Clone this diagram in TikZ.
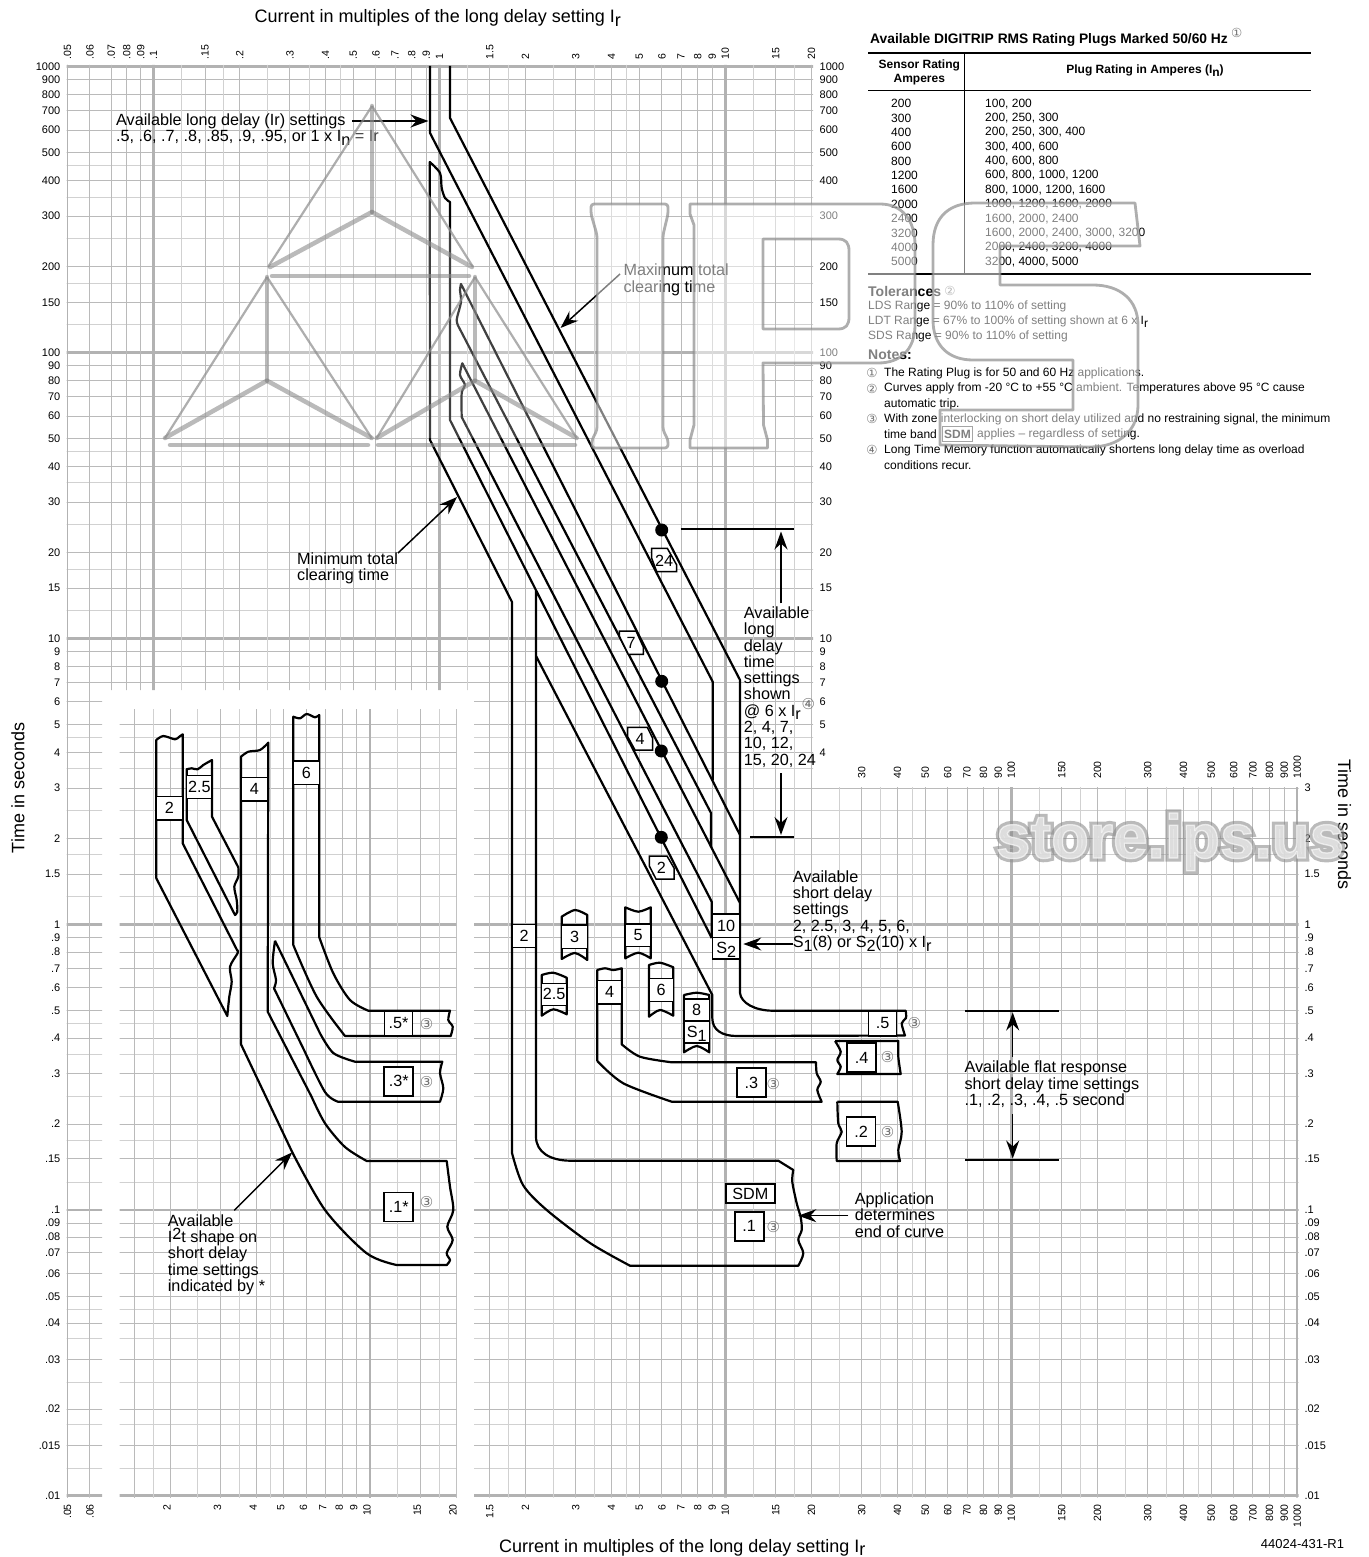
\documentclass[tikz,border=0pt]{standalone}
\usepackage{fontspec}
\setmainfont{Liberation Sans}
\newfontfamily\symfont{DejaVu Sans}
\newfontfamily\wmring[FakeBold=12]{Liberation Sans Bold}
\newfontfamily\wmcore[FakeBold=2]{Liberation Sans Bold}
\usetikzlibrary{arrows.meta}
\newcommand{\labelfont}{\fontsize{16.2}{16.3}\selectfont}
\newcommand{\titlefont}{\fontsize{18}{20}\selectfont}
\newcommand{\tickfont}{\fontsize{10.5}{12}\selectfont}
\newcommand{\sidefont}{\fontsize{11}{12}\selectfont}
\newcommand{\tablefont}{\fontsize{12}{14}\selectfont}
\newcommand{\notefont}{\fontsize{12}{14}\selectfont}
\newcommand{\headfont}{\fontsize{14}{15}\selectfont\bfseries}
\newcommand{\lowr}[1]{\smash{\raisebox{-.22em}{#1}}}
\newcommand{\upr}[1]{\smash{\raisebox{.2em}{#1}}}
\newcommand{\circsym}[1]{{\symfont\color{black!55}#1}}

\begin{document}
\begin{tikzpicture}[x=1pt,y=-1pt,
    declare function={xp(\q)=439.4+285.95*log10(\q); xs(\q)=84+285.95*log10(\q); yp(\q)=924.4-285.9*log10(\q);}]
    \tikzstyle{gridmajor} = [draw=black!27,line width=1pt]
\tikzstyle{gridminor} = [draw=black!18,line width=1pt]
\tikzstyle{griddecade} = [draw=black!30,line width=2.6pt]
\tikzstyle{curveline} = [draw=black,line width=2.2pt,line join=round]
\tikzstyle{barline} = [draw=black,line width=2.2pt]
\tikzstyle{pointer} = [draw=black,line width=1.5pt,-{Stealth[length=18pt,width=13pt,inset=6pt]}]
\tikzstyle{plugbox} = [draw=black,fill=white,line width=1.5pt,inner sep=0pt,font=\labelfont]
\tikzstyle{plugtext} = [inner sep=0pt,font=\labelfont]
\tikzstyle{platebox} = [plugbox,line width=1.8pt,minimum width=29pt,minimum height=29pt]
\tikzstyle{callout} = [inner sep=0pt,align=left,anchor=north west,font=\labelfont]
\tikzstyle{ticktext} = [inner sep=0pt,font=\tickfont]
\tikzstyle{sidetext} = [inner sep=0pt,font=\sidefont]
\tikzstyle{cell} = [inner sep=0pt,anchor=west,font=\tablefont]
\tikzstyle{noteline} = [inner sep=0pt,anchor=west,font=\notefont]
\tikzstyle{circled} = [inner sep=0pt,font=\fontsize{15}{15}\selectfont]
\tikzstyle{notecircled} = [inner sep=0pt,font=\fontsize{12.5}{13}\selectfont]
\tikzstyle{dotmark} = [fill=black,shape=circle,inner sep=0pt,minimum size=13pt]
\tikzstyle{wmline} = [draw=black!45,draw opacity=.7,line width=2.2pt,line join=round]
\tikzstyle{wmspoke} = [draw=black!45,draw opacity=.6,line width=4.5pt,line cap=round]
\tikzstyle{wmletter} = [draw=black!45,draw opacity=.7,line width=2.8pt,fill=white,fill opacity=.5,even odd rule,line join=round]

\useasboundingbox (0,0) rectangle (1368,1557);

\begin{scope}
\clip (66.5,65) rectangle (813,690) (66.5,690) rectangle (102,1497.5) (119.5,709) rectangle (456.5,1497.5) (474,690) rectangle (813,1497.5) (813,787) rectangle (1298.5,1497.5);
\foreach \d in {.01,.1,1,10,100} {
\foreach \m in {1.5,2,3,4,5,6,7,8,9} \draw[gridmajor] (60,{yp(\m*\d)}) -- (1300,{yp(\m*\d)});
\foreach \m in {1.25,1.75,2.5,3.5,4.5} \draw[gridminor] (60,{yp(\m*\d)}) -- (1300,{yp(\m*\d)});
}
\foreach \d in {.01,.1,1,10,100,1000} \draw[griddecade] (60,{yp(\d)}) -- (1300,{yp(\d)});
\end{scope}

\begin{scope}
\clip (66.5,65) rectangle (813,690) (66.5,690) rectangle (102,1497.5) (474,690) rectangle (813,1497.5) (813,787) rectangle (1298.5,1497.5);
\foreach \d in {.01,.1,1,10,100} {
\foreach \m in {1.5,2,3,4,5,6,7,8,9} \draw[gridmajor] ({xp(\m*\d)},60) -- ({xp(\m*\d)},1500);
\foreach \m in {1.25,1.75,2.5,3.5,4.5} \draw[gridminor] ({xp(\m*\d)},60) -- ({xp(\m*\d)},1500);
}
\foreach \d in {.1,1,10,100,1000} \draw[griddecade] ({xp(\d)},60) -- ({xp(\d)},1500);
\draw[griddecade,line width=1.8pt] ({xp(.05)},60) -- ({xp(.05)},1500);
\end{scope}

\begin{scope}
\clip (119.5,709) rectangle (456.5,1497.5);
\foreach \d in {1,10} {
\foreach \m in {1.5,2,3,4,5,6,7,8,9} \draw[gridmajor] ({xs(\m*\d)},700) -- ({xs(\m*\d)},1500);
\foreach \m in {1.25,1.75,2.5,3.5,4.5} \draw[gridminor] ({xs(\m*\d)},700) -- ({xs(\m*\d)},1500);
}
\draw[griddecade] ({xs(10)},700) -- ({xs(10)},1500);
\draw[gridmajor] ({xs(20)},700) -- ({xs(20)},1500);
\end{scope}

\foreach \v [count=\i] in {.05,.06,.07,.08,.09,.1,.15,.2,.3,.4,.5,.6,.7,.8,.9,1,1.5,2,3,4,5,6,7,8,9,10,15,20}
\node[ticktext,rotate=90,anchor=west] (topa\i) at ({xp(\v)},59.5) {\v};
\foreach \v [count=\i] in {30,40,50,60,70,80,90,100,150,200,300,400,500,600,700,800,900,1000}
\node[ticktext,rotate=90,anchor=west] (topb\i) at ({xp(\v)},779) {\v};
\foreach \v [count=\i] in {.05,.06,1.5,2,3,4,5,6,7,8,9,10,15,20,30,40,50,60,70,80,90,100,150,200,300,400,500,600,700,800,900,1000}
\node[ticktext,rotate=90,anchor=east] (bota\i) at ({xp(\v)},1504) {\v};
\foreach \v [count=\i] in {2,3,4,5,6,7,8,9,10,15,20}
\node[ticktext,rotate=90,anchor=east] (botb\i) at ({xs(\v)-3},1504) {\v};
\foreach \v [count=\i] in {1000,900,800,700,600,500,400,300,200,150,100,90,80,70,60,50,40,30,20,15,10,9,8,7,6,5,4,3,2,1.5,1,.9,.8,.7,.6,.5,.4,.3,.2,.15,.1,.09,.08,.07,.06,.05,.04,.03,.02,.015,.01}
\node[sidetext,anchor=east] (lefta\i) at (60.5,{yp(\v)}) {\v};
\foreach \v [count=\i] in {1000,900,800,700,600,500,400,300,200,150,100,90,80,70,60,50,40,30,20,15,10,9,8,7,6,5,4}
\node[sidetext,anchor=west] (righta\i) at (819.5,{yp(\v)}) {\v};
\foreach \v [count=\i] in {3,2,1.5,1,.9,.8,.7,.6,.5,.4,.3,.2,.15,.1,.09,.08,.07,.06,.05,.04,.03,.02,.015,.01}
\node[sidetext,anchor=west] (rightb\i) at (1304.3,{yp(\v)}) {\v};

\draw[curveline] (430,66) -- (430,133) -- (712.7,681.7) -- (712.7,780);
\draw[curveline] (450,66) -- (450,118) -- (740,680) -- (740,993) .. controls (741,1003) and (755,1010.7) .. (773,1010.7) -- (905.7,1010.7) -- plot[smooth] coordinates {(905.7,1010.7) (906,1018) (901.7,1023.3) (905,1035.5)} -- (736.7,1036) .. controls (722,1036) and (712.3,1030) .. (712.3,1018) -- (712.3,995) -- (536,656);
\draw[curveline] (711.7,938) -- (450,420) -- (450,202) -- plot[smooth] coordinates {(450,202) (445,198) (441.7,188) (440,173) (429.7,162)} -- (430,440) -- (512,602) -- (512,1153) -- plot[smooth] coordinates {(512,1153) (523,1185) (546.7,1210) (590,1243) (630,1265.7)} -- (798.3,1265.7) -- plot[smooth] coordinates {(798.3,1265.7) (803.3,1253.3) (798.3,1240) (801.7,1230) (800.7,1217.3) (796.7,1203.3) (792.3,1181.7) (793.3,1170)} -- (778.3,1160.7) -- (570.7,1160.7) .. controls (550,1160.7) and (536,1152) .. (536,1136.7) -- (536,590);
\draw[curveline] (740,903) -- (462.3,363.3) -- plot[smooth] coordinates {(462.3,363.3) (460,375) (465,385) (461.7,393) (461.7,417)} -- (711.7,901.7) -- (711.7,938);
\draw[curveline] (740,835) -- (461,284) -- plot[smooth] coordinates {(461,284) (460,290) (461,302) (456.7,320) (459.3,328)} -- (711,813) -- (711,847);

\draw[curveline] (156.3,878.3) -- (156.3,740) -- plot[smooth] coordinates {(156.3,740) (163.3,736) (175,739.3) (179.3,736.7) (182.7,734.3)} -- (182.7,843.3) -- (237,950) -- plot[smooth] coordinates {(237,950) (237.7,953) (230,966.7) (231.7,981.7) (229.3,996.7) (227.3,1016)} -- (156.3,878.3);
\draw[curveline] (186.7,820) -- (186.7,769.3) -- plot[smooth] coordinates {(186.7,769.3) (191.7,768.3) (197.7,769.3) (203.3,765) (212,760)} -- (212,816.7) -- (238.3,867.3) -- plot[smooth] coordinates {(238.3,867.3) (238.3,876.7) (234.3,886.7) (236.7,900) (237.3,911.7) (235,915)} -- (186.7,820);
\draw[curveline] (241,1044.3) -- (241,756.7) -- plot[smooth] coordinates {(241,756.7) (248.3,751.7) (260,750) (268.3,742.7)} -- (267.7,1011.7) -- (311.7,1097) -- plot[smooth] coordinates {(311.7,1097) (325,1123.3) (345,1147) (366.7,1161)} -- (446.7,1161) -- plot[smooth] coordinates {(446.7,1161) (450,1186.7) (453.3,1210) (447.3,1226.7) (452.7,1240) (446.7,1253) (450,1260) (446.7,1265)} -- (396.7,1265) -- plot[smooth] coordinates {(396.7,1265) (366.7,1253.3) (325,1210) (292.3,1152.3)} -- (241,1044.3);
\draw[curveline] (293.3,945) -- (293.3,716.7) -- plot[smooth] coordinates {(293.3,716.7) (300,718.3) (306.7,714) (315,717.3) (319.3,715)} -- (319.3,937.3) -- plot[smooth] coordinates {(319.3,937.3) (333.3,973.3) (350,1000) (368.3,1010.7)} -- (450,1010.7) -- plot[smooth] coordinates {(450,1010.7) (448.3,1020) (452.7,1026.7) (450.7,1036)} -- (345,1036) -- plot[smooth] coordinates {(345,1036) (316.7,996.7) (293.3,945)};
\draw[curveline] (275,940.7) -- (320,1033.3) -- plot[smooth] coordinates {(320,1033.3) (333.3,1053) (355,1061.7)} -- (442.3,1061.7) -- plot[smooth] coordinates {(442.3,1061.7) (440,1073) (443.3,1088.3) (440,1101.7)} -- (338,1101.7) -- plot[smooth] coordinates {(338,1101.7) (325,1092) (304,1050)} -- (274,988.3) -- plot[smooth] coordinates {(274,988.3) (276,980) (272.7,963) (275,940.7)};

\draw[curveline] (561.7,959) -- plot[smooth] coordinates {(561.7,959) (575,953) (587.3,960)} -- (587.3,915) -- plot[smooth] coordinates {(587.3,915) (575,910) (561.7,916.7)} -- cycle;
\draw[curveline] (625.3,958.3) -- plot[smooth] coordinates {(625.3,958.3) (638.3,952.7) (650.7,958.3)} -- (650.7,907.3) -- plot[smooth] coordinates {(650.7,907.3) (638.3,911.7) (625.3,907.3)} -- cycle;
\draw[curveline] (541.7,1015.7) -- plot[smooth] coordinates {(541.7,1015.7) (553.3,1009.3) (566.7,1014.3)} -- (566.7,977.7) -- plot[smooth] coordinates {(566.7,977.7) (553.3,972.7) (541.7,975)} -- cycle;
\draw[curveline] (649,1016.7) -- plot[smooth] coordinates {(649,1016.7) (660,1010) (673.3,1015.7)} -- (673.3,967.3) -- plot[smooth] coordinates {(673.3,967.3) (660,962.7) (649,965)} -- cycle;
\draw[curveline] (684,1052.3) -- plot[smooth] coordinates {(684,1052.3) (696.7,1046) (709.3,1052.3)} -- (709.3,995) -- plot[smooth] coordinates {(709.3,995) (696.7,992.7) (684,995)} -- cycle;
\draw[curveline] (597.3,1061) -- (597.3,970) -- plot[smooth] coordinates {(597.3,970) (605,968.3) (613.3,970) (621.7,968.3)} -- (621.7,1044.3) -- plot[smooth] coordinates {(621.7,1044.3) (640,1056.7) (671.7,1062.3)} -- (816,1062.3) -- plot[smooth] coordinates {(816,1062.3) (816.7,1073.3) (820.7,1081.7) (817.3,1090) (821.7,1101.7)} -- (671.7,1101.7) -- plot[smooth] coordinates {(671.7,1101.7) (623.3,1083.3) (597.3,1061)};
\draw[curveline] (835,1041) -- (898.3,1041) -- plot[smooth] coordinates {(898.3,1041) (898.3,1056.7) (900.7,1074)} -- (837.3,1074) -- plot[smooth] coordinates {(837.3,1074) (840.7,1066.7) (837.3,1060) (840.7,1051.7) (835,1041)};
\draw[curveline] (837.3,1101.7) -- (897.7,1101.7) -- plot[smooth] coordinates {(897.7,1101.7) (901.7,1131.7) (898.3,1150) (900,1161)} -- (836.7,1161) -- plot[smooth] coordinates {(836.7,1161) (836.7,1143.3) (841.7,1131.7) (838.3,1123.3) (837.3,1101.7)};

\node[plugbox,minimum width=26.4pt,minimum height=23.3pt] (lb2) at (169.5,808.3) {2};
\node[plugbox,minimum width=25.3pt,minimum height=22.6pt] (lb25) at (199.3,787) {2.5};
\node[plugbox,minimum width=26.7pt,minimum height=23.5pt] (lb4) at (254.3,789) {4};
\node[plugbox,minimum width=26pt,minimum height=23.3pt] (lb6) at (306.3,772.7) {6};
\node[plugbox,minimum width=28.4pt,minimum height=25.3pt] (lbpa) at (398.5,1023.4) {.5*};
\node[platebox] (lbpc) at (398.8,1081.3) {.3*};
\node[platebox] (lbpd) at (398.8,1207) {.1*};
\node[plugbox,minimum width=24pt,minimum height=23.4pt] (sb2) at (524,936) {2};
\node[plugbox,minimum width=25.6pt,minimum height=23.3pt] (sb3) at (574.5,936.7) {3};
\node[plugbox,minimum width=25.4pt,minimum height=22.7pt] (sb5) at (638,935.3) {5};
\node[plugbox,minimum width=25pt,minimum height=22pt] (sb25) at (554.2,994.3) {2.5};
\node[plugbox,minimum width=24.4pt,minimum height=23.3pt] (sb4) at (609.5,992.3) {4};
\node[plugbox,minimum width=24.3pt,minimum height=23.4pt] (sb6) at (661.2,990) {6};
\node[plugbox,minimum width=25.3pt,minimum height=22pt] (sb8) at (696.7,1010) {8};
\node[plugbox,below of=sb8,node distance=22pt,minimum width=25.3pt,minimum height=22pt] (sbs1) {S\lowr{1}};
\node[plugbox,minimum width=27.7pt,minimum height=23.3pt] (sb10) at (726.2,925.7) {10};
\node[plugbox,below of=sb10,node distance=22.5pt,minimum width=27.7pt,minimum height=21.7pt] (sbs2) {S\lowr{2}};
\node[plugbox,minimum width=28.4pt,minimum height=25.3pt] (spa) at (882.5,1023.4) {.5};
\node[platebox] (spb) at (861.7,1057.5) {.4};
\node[platebox] (spc) at (751.3,1082.8) {.3};
\node[platebox] (spd) at (861,1131.4) {.2};
\node[platebox] (spe) at (749.2,1226.2) {.1};
\node[plugbox,line width=1.8pt,minimum width=49.3pt,minimum height=19.3pt] (spm) at (750.3,1193.7) {SDM};

\foreach \a/\b in {lc1/{426.7,1024},lc2/{426.7,1082.3},lc3/{426.7,1202.3},lc4/{914.3,1022.7},lc5/{887.7,1057.3},lc6/{773.3,1084},lc7/{887.7,1132},lc8/{773.3,1227.3}}
\node[circled] (\a) at (\b) {\circsym{③}};

\draw[plugbox] (651.7,548.3) -- (667.3,548.3) -- (676.7,565) -- (676.7,571.7) -- (656.7,571.7) -- (651.7,558.3) -- cycle;
\draw[plugbox] (619.3,631) -- (636,631) -- (643.3,647) -- (643.3,654.3) -- (628.3,654.3) -- (619.3,636) -- cycle;
\draw[plugbox] (627.7,727.3) -- (647.3,727.3) -- (652.7,738.3) -- (652.7,750) -- (635,750) -- (627.7,736.7) -- cycle;
\draw[plugbox] (649.3,856) -- (667,856) -- (674,868) -- (674,879) -- (656,879) -- (649.3,866) -- cycle;
\node[plugtext] (ds24) at (664,560.5) {24};
\node[plugtext] (ds7) at (631,643.3) {7};
\node[plugtext] (ds4) at (640,739.3) {4};
\node[plugtext] (ds2) at (661.3,867.5) {2};

\node[dotmark] (dot24) at (661.7,530) {};
\node[dotmark] (dot7) at (661.7,681.3) {};
\node[dotmark] (dot4) at (661.3,751) {};
\node[dotmark] (dot2) at (661.3,837.3) {};

\draw[barline] (680.7,528.7) -- (794.3,528.7);
\draw[barline] (750,836.7) -- (794.3,836.7);
\draw[barline] (965,1010.7) -- (1058.7,1010.7);
\draw[barline] (965,1160) -- (1058.7,1160);

\node[inner sep=0pt,anchor=base west,font=\titlefont] (titletop) at (254.5,22.7) {Current in multiples of the long delay setting I\lowr{r}};
\node[inner sep=0pt,anchor=base west,font=\titlefont] (titlebot) at (499,1552) {Current in multiples of the long delay setting I\lowr{r}};
\node[inner sep=0pt,rotate=90,font=\titlefont] (timeleft) at (18,788) {Time in seconds};
\node[inner sep=0pt,rotate=-90,font=\titlefont] (timeright) at (1344.5,824.5) {Time in seconds};
\node[inner sep=0pt,anchor=west,font=\fontsize{13}{14}\selectfont] (partno) at (1260.7,1544) {44024-431-R1};

\node[callout] (lblong) at (116,113.7) {Available long delay (Ir) settings\\.5, .6, .7, .8, .85, .9, .95, or 1 x I\lowr{n} = Ir};
\node[callout] (lbmax) at (623.3,264) {Maximum total\\clearing time};
\node[callout] (lbmin) at (297,552.5) {Minimum total\\clearing time};
\node[callout] (lbi2t) at (167.7,1214.4) {Available\\I\upr{2}t shape on\\short delay\\time settings\\indicated by *};
\node[callout] (lbset) at (743.7,606.5) {Available\\long\\delay\\time\\settings\\shown\\@ 6 x I\lowr{r}\\2, 4, 7,\\10, 12,\\15, 20, 24};
\node[circled] (lbsetc) at (808.3,704) {\circsym{④}};
\node[callout] (lbshort) at (792.7,870.4) {Available\\short delay\\settings\\2, 2.5, 3, 4, 5, 6,\\S\lowr{1}(8) or S\lowr{2}(10) x I\lowr{r}};
\node[callout] (lbapp) at (854.7,1192.5) {Application\\determines\\end of curve};
\node[callout] (lbflat) at (964.3,1061) {Available flat response\\short delay time settings\\.1, .2, .3, .4, .5 second};

\coordinate (fromlong) at (352,121);
\coordinate (tolong) at (428.5,121);
\coordinate (frommax) at (620,274);
\coordinate (tomax) at (560.5,328);
\coordinate (frommin) at (398,553);
\coordinate (tomin) at (457,497);
\coordinate (fromi2t) at (234.3,1210.3);
\coordinate (toi2t) at (292.3,1152.3);
\coordinate (fromsetup) at (781,603.3);
\coordinate (tosetup) at (781,531.5);
\coordinate (fromsetdn) at (781,773);
\coordinate (tosetdn) at (781,835);
\coordinate (fromshort) at (793,944);
\coordinate (toshort) at (743.3,944);
\coordinate (fromapp) at (848.3,1215.7);
\coordinate (toapp) at (798.3,1215.7);
\coordinate (fromflatup) at (1012.7,1056.7);
\coordinate (toflatup) at (1012.7,1012.5);
\coordinate (fromflatdn) at (1012.7,1114);
\coordinate (toflatdn) at (1012.7,1158.5);
\foreach \s/\t in {fromlong/tolong,frommax/tomax,frommin/tomin,fromi2t/toi2t,fromsetup/tosetup,fromsetdn/tosetdn,fromshort/toshort,fromapp/toapp,fromflatup/toflatup,fromflatdn/toflatdn}
\draw[pointer] (\s) -- (\t);

\node[inner sep=0pt,anchor=base west,font=\fontsize{13.8}{15}\selectfont\bfseries] (tabtitle) at (870,44) {Available DIGITRIP RMS Rating Plugs Marked 50/60 Hz};
\node[notecircled] (tabtitlec) at (1236.7,33) {\circsym{①}};
\coordinate (ruleAl) at (868,53);
\coordinate (ruleAr) at (1310.7,53);
\coordinate (ruleBl) at (868,90.7);
\coordinate (ruleBr) at (1310.7,90.7);
\coordinate (ruleCl) at (868,274);
\coordinate (ruleCr) at (1310.7,274);
\coordinate (ruleVt) at (964.3,53);
\coordinate (ruleVb) at (964.3,274);
\draw[line width=1.5pt] (ruleAl) -- (ruleAr);
\draw[line width=1.5pt] (ruleBl) -- (ruleBr);
\draw[line width=1.5pt] (ruleCl) -- (ruleCr);
\draw[line width=.8pt] (ruleVt) -- (ruleVb);
\node[inner sep=0pt,align=center,font=\fontsize{12}{13.2}\selectfont\bfseries] (headsensor) at (919.3,72.3) {Sensor Rating\\Amperes};
\node[inner sep=0pt,font=\fontsize{12}{13.2}\selectfont\bfseries] (headplug) at (1145,70.7) {Plug Rating in Amperes (I\lowr{n})};
\foreach \s/\p [count=\i] in {200/{100, 200},300/{200, 250, 300},400/{200, 250, 300, 400},600/{300, 400, 600},800/{400, 600, 800},1200/{600, 800, 1000, 1200},1600/{800, 1000, 1200, 1600},2000/{1000, 1200, 1600, 2000},2400/{1600, 2000, 2400},3200/{1600, 2000, 2400, 3000, 3200},4000/{2000, 2400, 3200, 4000},5000/{3200, 4000, 5000}} {
\node[cell] (sensor\i) at (891,{103.7+14.36*(\i-1)}) {\s};
\node[cell] (plug\i) at (985,{103.7+14.36*(\i-1)}) {\p};
}

\node[cell,font=\headfont] (tolhead) at (868,291) {Tolerances};
\node[notecircled] (tolc) at (950,291) {\circsym{②}};
\node[noteline] (tol1) at (868,306.7) {LDS Range = 90\% to 110\% of setting};
\node[noteline] (tol2) at (868,321.7) {LDT Range = 67\% to 100\% of setting shown at 6 x I\lowr{r}};
\node[noteline] (tol3) at (868,336.7) {SDS Range = 90\% to 110\% of setting};
\node[cell,font=\headfont] (noteshead) at (868,355) {Notes:};
\node[notecircled] (nc1) at (872,373.3) {\circsym{①}};
\node[notecircled] (nc2) at (872,388.7) {\circsym{②}};
\node[notecircled] (nc3) at (872,419) {\circsym{③}};
\node[notecircled] (nc4) at (872,450) {\circsym{④}};
\node[noteline] (note1) at (884,373.3) {The Rating Plug is for 50 and 60 Hz applications.};
\node[noteline] (note2) at (884,388.7) {Curves apply from -20 °C to +55 °C ambient. Temperatures above 95 °C cause};
\node[noteline] (note2b) at (884,404) {automatic trip.};
\node[noteline] (note3) at (884,419) {With zone interlocking on short delay utilized and no restraining signal, the minimum};
\node[noteline] (note3b) at (884,434.7) {time band};
\node[draw=black!70,line width=.8pt,inner sep=0pt,minimum width=30.4pt,minimum height=15pt,font=\notefont\bfseries] (notesdm) at (957.5,434.2) {SDM};
\node[noteline] (note3c) at (977,434.7) {applies – regardless of setting.};
\node[noteline] (note4) at (884,450) {Long Time Memory function automatically shortens long delay time as overload};
\node[noteline] (note4b) at (884,465) {conditions recur.};

\fill[white,fill opacity=.25] (372.5,106) -- (268,267) -- (165,438) -- (580,438) -- (475,267) -- cycle;
\draw[wmline] (372,106) -- (268,267);
\draw[wmline] (372,106) -- (473,267);
\draw[wmline] (267,277) -- (165,438);
\draw[wmline] (267,277) -- (371.7,438);
\draw[wmline] (475,277) -- (376.7,438);
\draw[wmline] (475,277) -- (576.7,438);
\draw[wmspoke] (372,106) -- (372,212);
\draw[wmspoke] (372,212) -- (270,267);
\draw[wmspoke] (372,212) -- (472,267);
\draw[wmspoke] (272,276) -- (469,276);
\draw[wmspoke] (267,277) -- (267,380.7);
\draw[wmspoke] (267,380.7) -- (165,438);
\draw[wmspoke] (267,380.7) -- (371.7,438);
\draw[wmspoke] (475,277) -- (475,380.7);
\draw[wmspoke] (475,380.7) -- (376.7,438);
\draw[wmspoke] (475,380.7) -- (576.7,438);
\draw[wmspoke] (170,445) -- (368,445);
\draw[wmspoke] (378,445) -- (575,445);
\draw[wmletter,rounded corners=3pt] (591,204) -- (668,204) -- (668,214) -- (663,235) -- (663,430) -- (668,440) -- (668,448) -- (592,448) -- (592,440) -- (597,430) -- (597,235) -- (591,214) -- cycle;
\draw[wmletter] (690,204) -- (880,204) .. controls (902,204) and (915,220) .. (915,245) -- (915,325) .. controls (915,350) and (900,363) .. (878,363) -- (763,363) -- (763.5,425) -- (767.5,440) -- (767.5,448) -- (690,448) -- (690,440) -- (694,425) -- (694,225) -- (690,214) -- cycle (763,239) -- (763,329) -- (838,329) .. controls (846,329) and (849,325) .. (849,317) -- (849,251) .. controls (849,243) and (846,239) .. (838,239) -- cycle;
\draw[wmletter] (1135,203) -- (975,203) .. controls (948,203) and (933,218) .. (933,245) -- (933,320) .. controls (933,345) and (948,360) .. (973,360) -- (1073,360) -- (1073,410) -- (940,410) -- (940,445) -- (1090,447) .. controls (1120,447) and (1138,430) .. (1138,405) -- (1138,325) .. controls (1138,300) and (1120,285) .. (1093,285) -- (1000,285) -- (1000,246) -- (1140,246) -- cycle;

\node[inner sep=0pt,anchor=base,text=black!45,text opacity=.6,font=\fontsize{62}{62}\wmring\selectfont] (wmouter) at (1170,858) {store.ips.us};
\node[inner sep=0pt,anchor=base,text=white,text opacity=.65,font=\fontsize{62}{62}\wmcore\selectfont] (wminner) at (1170,858) {store.ips.us};

\end{tikzpicture}
\end{document}
